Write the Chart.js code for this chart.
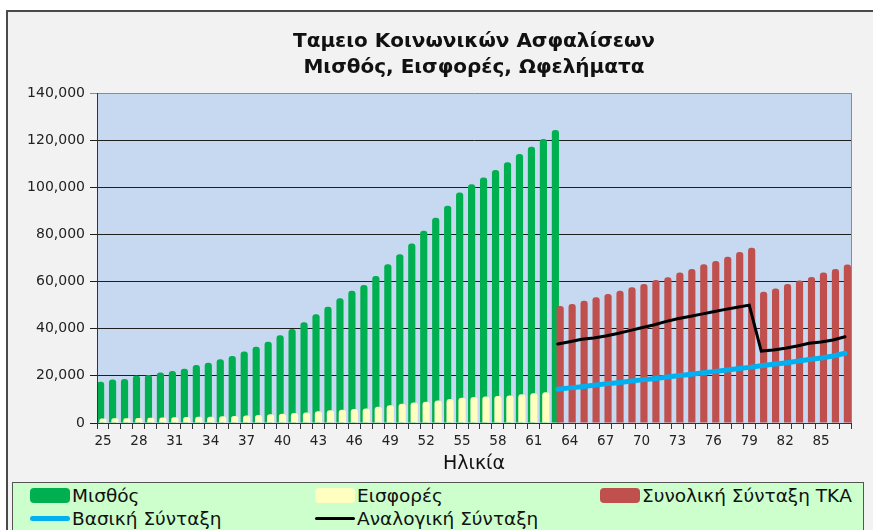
<!DOCTYPE html>
<html lang="el">
<head>
<meta charset="utf-8">
<title>Ταμειο Κοινωνικών Ασφαλίσεων</title>
<script src="https://cdn.jsdelivr.net/npm/chart.js@4.4.1/dist/chart.umd.min.js"></script>
<style>
  html,body{margin:0;padding:0;background:#fff;}
  body{width:873px;height:530px;position:relative;overflow:hidden;font-family:"DejaVu Sans",sans-serif;}
  #frame{position:absolute;left:6px;top:10px;width:880px;height:540px;border-left:2px solid #4a4a4a;border-top:2px solid #4a4a4a;background:#f2f2f2;}
  #chart{position:absolute;left:0;top:0;}
  #legend{position:absolute;left:12px;top:482px;width:852px;height:60px;background:#ccffcc;border:1px solid #555;box-sizing:border-box;
          display:grid;grid-template-columns:285px 285px 1fr;grid-auto-rows:23px;padding:1px 0 0 17px;}
  .item{display:flex;align-items:center;font-size:18.5px;color:#111;white-space:nowrap;}
  .sw{display:inline-block;width:40px;margin-right:2px;}
</style>
</head>
<body>
<div id="frame"></div>
<canvas id="chart" width="873" height="483"></canvas>
<div id="legend"></div>
<script>
const titleLines = ['Ταμειο Κοινωνικών Ασφαλίσεων', 'Μισθός, Εισφορές, Ωφελήματα'];
const ages = [25,26,27,28,29,30,31,32,33,34,35,36,37,38,39,40,41,42,43,44,45,46,47,48,49,50,51,52,53,54,55,56,
  57,58,59,60,61,62,63,64,65,66,67,68,69,70,71,72,73,74,75,76,77,78,79,80,81,82,83,84,85,86,87];
const xTickLabels = [25,28,31,34,37,40,43,46,49,52,55,58,61,64,67,70,73,76,79,82,85];

// Μισθός, ages 25-63
const salaryStart = 25;
const salary = [17500,18500,18700,20100,20400,21400,22100,23000,24600,25600,27000,28400,30300,32400,34500,37200,39900,
  42700,46100,49300,52900,56100,58500,62400,67300,71600,76200,81600,87100,92200,97800,101300,104200,107300,110600,
  114100,117200,120500,124300];
// Εισφορές, ages 25-62
const contribStart = 25;
const contributions = [1900,2000,2000,2100,2200,2300,2400,2500,2600,2700,2900,3000,3200,3400,3700,3900,4200,
  4500,5000,5400,5600,5900,6200,6900,7500,8200,8700,9000,9500,10200,10700,11000,11200,11500,11700,12200,12600,13000];
// pensions, ages 63-87
const pensionStart = 63;
const totalPension = [49600,50500,51900,53300,54700,56100,57600,59000,60700,61800,63800,65300,67300,68700,70500,72500,74400,
  55700,57100,59000,60500,61900,63800,65300,67200];
const basicPension = [14300,14900,15400,16000,16600,17100,17700,18300,18800,19400,20000,20600,21200,21800,22400,23000,23600,
  24300,24900,25500,26200,26900,27600,28400,29600];
const proportionalPension = [33500,34500,35500,36100,36900,38000,39200,40400,41600,43000,44200,45200,46200,47200,48200,49100,50000,
  30500,31000,31700,32700,33800,34400,35200,36600];

function byAge(values, start){
  return ages.map(a => { const v = values[a - start]; return v === undefined ? null : v; });
}

const FONT = '"DejaVu Sans", sans-serif';

// draw datasets in index order so later series sit on top (red over yellow over green, lines last)
const layerOrder = {
  id: 'layerOrder',
  beforeDatasetDraw(){ return false; },
  afterDatasetsDraw(chart){
    const ctx = chart.ctx, a = chart.chartArea;
    chart.data.datasets.forEach((ds, i) => {
      const meta = chart.getDatasetMeta(i);
      if(!meta.visible) return;
      ctx.save();
      ctx.beginPath(); ctx.rect(a.left, a.top - 4, a.width + 4, a.height + 4); ctx.clip();
      meta.controller.draw();
      ctx.restore();
    });
  }
};
const plotBg = {
  id: 'plotBg',
  beforeDraw(chart){
    const {ctx, chartArea:a} = chart;
    ctx.save(); ctx.fillStyle = '#c6d9f0'; ctx.fillRect(a.left, a.top, a.width, a.height); ctx.restore();
  },
  afterDraw(chart){
    const {ctx, chartArea:a} = chart;
    ctx.save(); ctx.strokeStyle = '#8c8c8c'; ctx.lineWidth = 1;
    ctx.beginPath(); ctx.moveTo(Math.round(a.right) + 0.5, a.top); ctx.lineTo(Math.round(a.right) + 0.5, a.bottom); ctx.stroke();
    ctx.restore();
  }
};

const barStyle = { categoryPercentage:0.6, barPercentage:3.0, borderRadius:{topLeft:3, topRight:3}, borderSkipped:'start' };

const chart = new Chart(document.getElementById('chart').getContext('2d'), {
  type:'bar',
  data:{
    labels: ages,
    datasets:[
      Object.assign({ label:'Μισθός', data:byAge(salary, salaryStart), backgroundColor:'#00b050' }, barStyle),
      Object.assign({ label:'Εισφορές', data:byAge(contributions, contribStart), backgroundColor:'#ffffc0' }, barStyle),
      Object.assign({ label:'Συνολική Σύνταξη ΤΚΑ', data:byAge(totalPension, pensionStart), backgroundColor:'#c0504d' }, barStyle),
      { type:'line', label:'Βασική Σύνταξη', data:byAge(basicPension, pensionStart), borderColor:'#00b0f0', backgroundColor:'#00b0f0',
        borderWidth:5, pointRadius:0, tension:0, borderCapStyle:'round' },
      { type:'line', label:'Αναλογική Σύνταξη', data:byAge(proportionalPension, pensionStart), borderColor:'#000', backgroundColor:'#000',
        borderWidth:3, pointRadius:0, tension:0, borderCapStyle:'round' }
    ]
  },
  options:{
    responsive:false, animation:false, devicePixelRatio:1,
    layout:{ padding:{ left:8, right:22, top:0, bottom:0 } },
    plugins:{
      legend:{ display:false },
      tooltip:{ enabled:false },
      title:{ display:true, text:titleLines, fullSize:false, color:'#111',
        font:{ family:FONT, size:20, weight:'bold', lineHeight:1.3 }, padding:{ top:29, bottom:12 } }
    },
    scales:{
      x:{
        offset:true,
        grid:{ drawOnChartArea:false, drawTicks:true, tickLength:6, color:'#333', offset:true },
        border:{ color:'#333', z:1 },
        ticks:{ autoSkip:false, maxRotation:0, padding:4, color:'#222', font:{ family:FONT, size:13.5 },
          callback(v, i){ return xTickLabels.includes(ages[i]) ? String(ages[i]) : ''; } },
        title:{ display:true, text:'Ηλικία', color:'#111', font:{ family:FONT, size:19 }, padding:{ top:0, bottom:8 } },
        afterFit(s){ s.height = 60; }
      },
      y:{
        min:0, max:140000,
        grid:{ color:c => (c.tick && c.tick.value === 140000) ? '#8c8c8c' : '#1e1e1e', tickLength:7 },
        border:{ color:'#333', z:1 },
        ticks:{ stepSize:20000, padding:5, color:'#222', font:{ family:FONT, size:14 },
          callback:v => v.toLocaleString('en-US') },
        afterFit(s){ s.width = 89; }
      }
    }
  },
  plugins:[plotBg, layerOrder]
});

// legend in three columns like the original
const legend = document.getElementById('legend');
chart.data.datasets.forEach(ds => {
  const item = document.createElement('div');
  item.className = 'item';
  const sw = document.createElement('span');
  sw.className = 'sw';
  if(ds.type === 'line'){
    sw.style.height = ds.borderWidth + 'px';
    sw.style.background = ds.borderColor;
    sw.style.borderRadius = ds.borderWidth + 'px';
  } else {
    sw.style.height = '15px';
    sw.style.background = ds.backgroundColor;
    sw.style.borderRadius = '4px';
  }
  item.appendChild(sw);
  item.appendChild(document.createTextNode(ds.label));
  legend.appendChild(item);
});
</script>
</body>
</html>
